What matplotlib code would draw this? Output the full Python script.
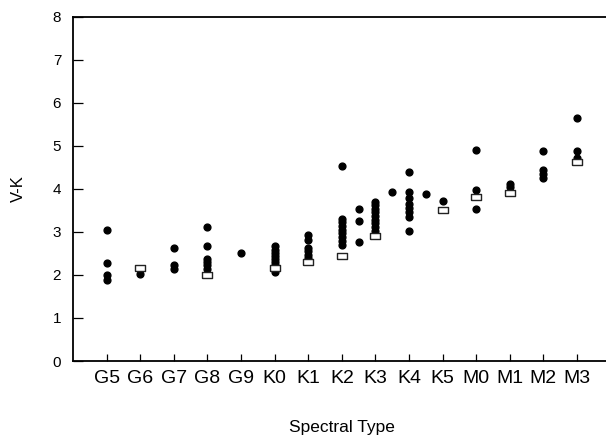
import numpy as np
import matplotlib
matplotlib.use('Agg')
import matplotlib.pyplot as plt

plt.rcParams['font.family'] = ['Liberation Sans', 'DejaVu Sans']

# spectral type axis
SPECTRAL_TYPES = ['G5', 'G6', 'G7', 'G8', 'G9', 'K0', 'K1', 'K2',
                  'K3', 'K4', 'K5', 'M0', 'M1', 'M2', 'M3']

# individual stars: spectral type (half types allowed) and V-K
STAR_TYPES = {
    'G5': [3.05, 2.28, 2.00, 1.88],
    'G6': [2.02],
    'G7': [2.62, 2.22, 2.13],
    'G8': [3.12, 2.67, 2.37, 2.30, 2.22, 2.14],
    'G9': [2.50],
    'K0': [2.66, 2.58, 2.50, 2.43, 2.36, 2.29, 2.22, 2.07],
    'K1': [2.92, 2.82, 2.62, 2.55, 2.47, 2.40],
    'K2': [4.52, 3.30, 3.22, 3.13, 3.05, 2.97, 2.88, 2.79, 2.70],
    'K2.5': [3.53, 3.24, 2.77],
    'K3': [3.70, 3.62, 3.53, 3.45, 3.37, 3.28, 3.20, 3.12, 3.03],
    'K3.5': [3.92],
    'K4': [4.40, 3.92, 3.78, 3.65, 3.55, 3.45, 3.35, 3.02],
    'K4.5': [3.88],
    'K5': [3.72],
    'M0': [4.91, 3.96, 3.53],
    'M1': [4.11, 4.05],
    'M2': [4.88, 4.43, 4.34, 4.25],
    'M3': [5.64, 4.88, 4.71],
}

# reference (mean) colours
REF_TYPES = ['G6', 'G8', 'K0', 'K1', 'K2', 'K3', 'K5', 'M0', 'M1', 'M3']
REF_VK = [2.16, 1.99, 2.16, 2.29, 2.44, 2.91, 3.51, 3.80, 3.90, 4.62]


def typeToPos(spType):
    # 'K2.5' -> halfway between K2 and K3
    if '.' in spType:
        base, frac = spType.split('.')
        return SPECTRAL_TYPES.index(base) + 1 + float('0.' + frac)
    return SPECTRAL_TYPES.index(spType) + 1


starX = []
starY = []
for spType, vkList in STAR_TYPES.items():
    for vk in vkList:
        starX.append(typeToPos(spType))
        starY.append(vk)

refX = [typeToPos(t) for t in REF_TYPES]

fig = plt.figure(figsize=(6.06, 4.37), dpi=100)
ax = fig.add_axes([0.1205, 0.1739, 0.8871, 0.7883])

ax.plot(starX, starY, linestyle='none', marker='o', markersize=4.9,
        color='black', zorder=2)

rectMarker = [(-1, -0.64), (1, -0.64), (1, 0.64), (-1, 0.64), (-1, -0.64)]
ax.plot(refX, REF_VK, linestyle='none', marker=rectMarker, markersize=7.8,
        markerfacecolor='white', markeredgecolor='#222222',
        markeredgewidth=1.0, zorder=3)

ax.set_xlim(0, 16)
ax.set_ylim(0, 8)
ax.set_xticks(np.arange(1, len(SPECTRAL_TYPES) + 1))
ax.set_xticklabels(SPECTRAL_TYPES)
ax.set_yticks(np.arange(0, 9))

ax.tick_params(axis='x', direction='in', length=5, width=0.9,
               labelsize=14, pad=6.5)
ax.tick_params(axis='y', direction='in', length=7.5, width=0.9,
               labelsize=11, pad=8.5)

ax.spines['right'].set_visible(False)
for side in ['left', 'bottom', 'top']:
    ax.spines[side].set_linewidth(1.3)

ax.set_xlabel('Spectral Type', fontsize=12.5, labelpad=24)
ax.set_ylabel('V-K', fontsize=12, labelpad=19)

plt.savefig('out.png', dpi=100)
